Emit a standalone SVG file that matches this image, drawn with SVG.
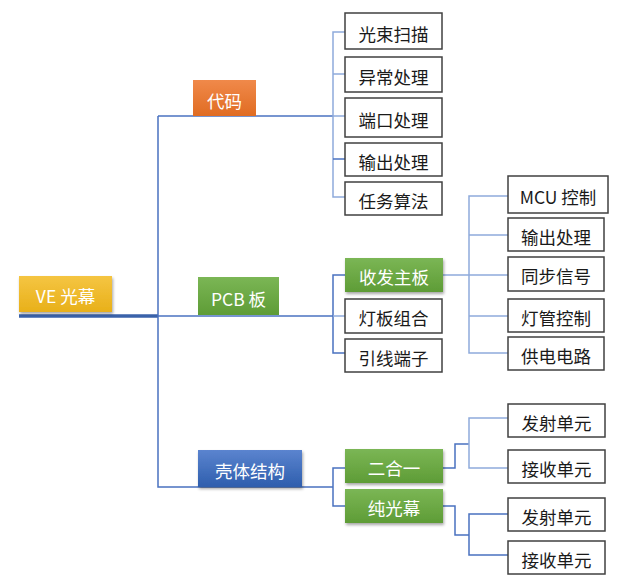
<svg xmlns="http://www.w3.org/2000/svg" width="629" height="587" viewBox="0 0 629 587">
<style>
text{font-family:"Noto Sans CJK SC","Noto Sans",sans-serif;font-size:17.5px;text-anchor:middle;dominant-baseline:central}
.w rect{fill:#fff;stroke:#404040;stroke-width:1.5}
.w text{fill:#1a1a1a}
.c text{fill:#fff}
.ln{fill:none;stroke:#4a72c0;stroke-width:1.5}
.lt{fill:none;stroke:#8eaadb;stroke-width:1.5}
</style>
<defs>
<linearGradient id="gy" x1="0" y1="0" x2="0" y2="1"><stop offset="0" stop-color="#f5c542"/><stop offset="1" stop-color="#e8b01a"/></linearGradient>
<linearGradient id="go" x1="0" y1="0" x2="0" y2="1"><stop offset="0" stop-color="#f0894a"/><stop offset="1" stop-color="#e06c22"/></linearGradient>
<linearGradient id="gg" x1="0" y1="0" x2="0" y2="1"><stop offset="0" stop-color="#7bb655"/><stop offset="1" stop-color="#5e9c36"/></linearGradient>
<linearGradient id="gb" x1="0" y1="0" x2="0" y2="1"><stop offset="0" stop-color="#5b84cf"/><stop offset="1" stop-color="#2e5ead"/></linearGradient>
<filter id="sh" x="-10%" y="-10%" width="125%" height="140%"><feDropShadow dx="1" dy="2" stdDeviation="1.5" flood-color="#000" flood-opacity="0.35"/></filter>
</defs>
<g id="connectors">
<line x1="19" y1="316" x2="158" y2="316" stroke="#3a62aa" stroke-width="3.5"/>
<polyline class="ln" points="158,116 158,487 333,487"/>
<line class="ln" x1="158" y1="116" x2="333" y2="116"/>
<line class="ln" x1="158" y1="316" x2="333" y2="316"/>
<polyline class="lt" points="345,32 333,32 333,197 345,197"/>
<line class="lt" x1="333" y1="74" x2="345" y2="74"/>
<line class="lt" x1="333" y1="116" x2="345" y2="116"/>
<line class="ln" x1="333" y1="159" x2="345" y2="159"/>
<polyline class="ln" points="345,275 333,275 333,353 345,353"/>
<line class="lt" x1="333" y1="316" x2="345" y2="316"/>
<line class="lt" x1="443" y1="275" x2="508" y2="275"/>
<polyline class="lt" points="508,196 469,196 469,353 508,353"/>
<line class="lt" x1="469" y1="235" x2="508" y2="235"/>
<line class="lt" x1="469" y1="316" x2="508" y2="316"/>
<polyline class="ln" points="345,468 333,468 333,506 345,506"/>
<polyline class="ln" points="443,468 455,468 455,444 469,444"/>
<polyline class="lt" points="508,418 469,418 469,468 508,468"/>
<polyline class="ln" points="443,506 455,506 455,535 469,535"/>
<polyline class="ln" points="508,514 469,514 469,555 508,555"/>
</g>
<g id="root" class="c"><rect x="19" y="276" width="93" height="36" fill="url(#gy)" filter="url(#sh)"/><text x="65.5" y="295.5">VE 光幕</text></g>
<g id="daima" class="c"><rect x="193" y="80" width="63" height="36" fill="url(#go)"/><text x="224.5" y="100">代码</text></g>
<g id="pcb" class="c"><rect x="198" y="277" width="81" height="38" fill="url(#gg)"/><text x="238.5" y="298">PCB 板</text></g>
<g id="keti" class="c"><rect x="198" y="450" width="104" height="37" fill="url(#gb)" filter="url(#sh)"/><text x="250" y="470">壳体结构</text></g>
<g id="n1" class="w"><rect x="345" y="13" width="97" height="36"/><text x="393.5" y="33">光束扫描</text></g>
<g id="n2" class="w"><rect x="345" y="57" width="97" height="35"/><text x="393.5" y="76">异常处理</text></g>
<g id="n3" class="w"><rect x="345" y="98" width="97" height="39"/><text x="393.5" y="119">端口处理</text></g>
<g id="n4" class="w"><rect x="345" y="143" width="97" height="33"/><text x="393.5" y="161">输出处理</text></g>
<g id="n5" class="w"><rect x="345" y="182" width="97" height="33"/><text x="393.5" y="200">任务算法</text></g>
<g id="shoufa" class="c"><rect x="345" y="258" width="98" height="34" fill="url(#gg)" filter="url(#sh)"/><text x="394" y="276.5">收发主板</text></g>
<g id="dengban" class="w"><rect x="345" y="299" width="97" height="34"/><text x="393.5" y="317.5">灯板组合</text></g>
<g id="yinxian" class="w"><rect x="345" y="339" width="97" height="33"/><text x="393.5" y="357">引线端子</text></g>
<g id="mcu" class="w"><rect x="508" y="176" width="100" height="37"/><text x="558" y="196">MCU 控制</text></g>
<g id="shuchu2" class="w"><rect x="508" y="218" width="96" height="33"/><text x="556" y="236">输出处理</text></g>
<g id="tongbu" class="w"><rect x="508" y="257" width="96" height="34"/><text x="556" y="275.5">同步信号</text></g>
<g id="dengguan" class="w"><rect x="508" y="299" width="96" height="33"/><text x="556" y="317">灯管控制</text></g>
<g id="gongdian" class="w"><rect x="508" y="337" width="96" height="33"/><text x="556" y="355">供电电路</text></g>
<g id="erheyi" class="c"><rect x="345" y="449" width="98" height="34" fill="url(#gg)" filter="url(#sh)"/><text x="394" y="467.5">二合一</text></g>
<g id="chun" class="c"><rect x="345" y="489" width="98" height="34" fill="url(#gg)" filter="url(#sh)"/><text x="394" y="507.5">纯光幕</text></g>
<g id="fashe1" class="w"><rect x="508" y="404" width="97" height="33"/><text x="556.5" y="422">发射单元</text></g>
<g id="jieshou1" class="w"><rect x="508" y="450" width="97" height="33"/><text x="556.5" y="468">接收单元</text></g>
<g id="fashe2" class="w"><rect x="508" y="498" width="97" height="33"/><text x="556.5" y="516">发射单元</text></g>
<g id="jieshou2" class="w"><rect x="508" y="541" width="97" height="33"/><text x="556.5" y="559">接收单元</text></g>
</svg>
